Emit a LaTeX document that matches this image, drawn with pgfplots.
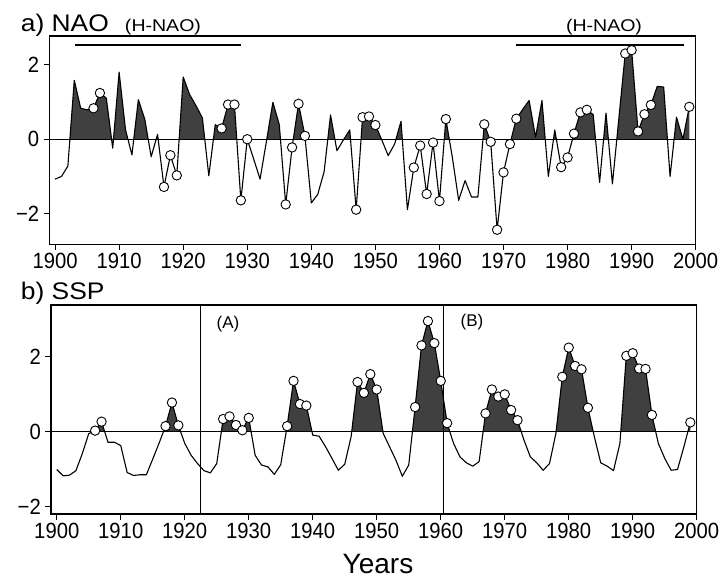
\documentclass[border=0pt]{standalone}
\usepackage{fontspec}
\setmainfont{Liberation Sans}
\newfontfamily\tickfont[FakeStretch=0.92]{Liberation Sans}
\newfontfamily\widefont[FakeStretch=1.1]{Liberation Sans}
\newfontfamily\xwidefont[FakeStretch=1.15]{Liberation Sans}
\usepackage{pgfplots}
\pgfplotsset{compat=1.18}
\usepackage{pgfplotstable}

\definecolor{areagray}{HTML}{404040}

% NAO index; ring=1 marks the years shown with open circles
\pgfplotstableread{
year nao ring
1900 -1.07 0
1901 -1.00 0
1902 -0.72 0
1903 1.58 0
1904 0.83 0
1905 0.79 0
1906 0.83 1
1907 1.24 1
1908 1.10 0
1909 -0.24 0
1910 1.80 0
1911 0.25 0
1912 -0.42 0
1913 1.06 0
1914 0.54 0
1915 -0.47 0
1916 0.13 0
1917 -1.28 1
1918 -0.43 1
1919 -0.97 1
1920 1.67 0
1921 1.20 0
1922 0.90 0
1923 0.57 0
1924 -0.98 0
1925 0.39 0
1926 0.29 1
1927 0.93 1
1928 0.93 1
1929 -1.64 1
1930 0.00 1
1931 -0.53 0
1932 -1.07 0
1933 -0.05 0
1934 0.99 0
1935 0.39 0
1936 -1.75 1
1937 -0.22 1
1938 0.95 1
1939 0.09 1
1940 -1.71 0
1941 -1.48 0
1942 -0.87 0
1943 0.65 0
1944 -0.31 0
1945 -0.02 0
1946 0.25 0
1947 -1.89 1
1948 0.59 1
1949 0.61 1
1950 0.38 1
1951 -0.02 0
1952 -0.44 0
1953 -0.13 0
1954 0.48 0
1955 -1.89 0
1956 -0.76 1
1957 -0.17 1
1958 -1.47 1
1959 -0.09 1
1960 -1.66 1
1961 0.54 1
1962 -0.47 0
1963 -1.64 0
1964 -1.11 0
1965 -1.55 0
1966 -1.55 0
1967 0.40 1
1968 -0.07 1
1969 -2.43 1
1970 -0.89 1
1971 -0.13 1
1972 0.55 1
1973 0.80 0
1974 1.04 0
1975 0.05 0
1976 1.04 0
1977 -1.00 0
1978 0.25 0
1979 -0.75 1
1980 -0.49 1
1981 0.15 1
1982 0.72 1
1983 0.79 1
1984 0.66 0
1985 -1.16 0
1986 0.70 0
1987 -1.20 0
1988 0.55 0
1989 2.30 1
1990 2.39 1
1991 0.21 1
1992 0.67 1
1993 0.92 1
1994 1.42 0
1995 1.40 0
1996 -1.00 0
1997 0.59 0
1998 0.00 0
1999 0.87 1
}\naodata

% SSP index; same ring flag
\pgfplotstableread{
year ssp ring
1900 -1.01 0
1901 -1.18 0
1902 -1.16 0
1903 -1.04 0
1904 -0.58 0
1905 -0.05 0
1906 0.03 1
1907 0.27 1
1908 -0.28 0
1909 -0.28 0
1910 -0.37 0
1911 -1.09 0
1912 -1.17 0
1913 -1.15 0
1914 -1.15 0
1915 -0.73 0
1916 -0.30 0
1917 0.15 1
1918 0.78 1
1919 0.17 1
1920 -0.31 0
1921 -0.63 0
1922 -0.85 0
1923 -1.04 0
1924 -1.10 0
1925 -0.85 0
1926 0.34 1
1927 0.41 1
1928 0.18 1
1929 0.04 1
1930 0.37 1
1931 -0.63 0
1932 -0.89 0
1933 -0.94 0
1934 -1.14 0
1935 -0.88 0
1936 0.15 1
1937 1.36 1
1938 0.74 1
1939 0.70 1
1940 -0.09 0
1941 -0.12 0
1942 -0.40 0
1943 -0.71 0
1944 -1.03 0
1945 -0.87 0
1946 -0.13 0
1947 1.33 1
1948 1.04 1
1949 1.54 1
1950 1.13 1
1951 -0.04 0
1952 -0.40 0
1953 -0.76 0
1954 -1.19 0
1955 -0.89 0
1956 0.66 1
1957 2.31 1
1958 2.96 1
1959 2.37 1
1960 1.36 1
1961 0.23 1
1962 -0.31 0
1963 -0.67 0
1964 -0.83 0
1965 -0.92 0
1966 -0.80 0
1967 0.49 1
1968 1.13 1
1969 0.94 1
1970 1.00 1
1971 0.58 1
1972 0.31 1
1973 -0.22 0
1974 -0.67 0
1975 -0.83 0
1976 -1.03 0
1977 -0.85 0
1978 -0.04 0
1979 1.47 1
1980 2.25 1
1981 1.76 1
1982 1.67 1
1983 0.64 1
1984 -0.13 0
1985 -0.83 0
1986 -0.92 0
1987 -1.04 0
1988 -0.31 0
1989 2.03 1
1990 2.10 1
1991 1.69 1
1992 1.68 1
1993 0.45 1
1994 -0.31 0
1995 -0.71 0
1996 -1.03 0
1997 -1.01 0
1998 -0.40 0
1999 0.25 1
}\sspdata

\pgfplotsset{
  panel/.style={
    scale only axis,
    xmin=1899.1, xmax=2000,
    axis line style={line width=1.1bp},
    tick align=outside,
    xtick pos=bottom, ytick pos=left,
    major tick length=5.7bp,
    tick style={line width=1bp, black},
    xtick={1900,1910,1920,1930,1940,1950,1960,1970,1980,1990,2000},
    xticklabels={1900,1910,1920,1930,1940,1950,1960,1970,1980,1990,2000},
    ytick={-2,0,2},
    yticklabels={−2,0,2},
    ticklabel style={font=\tickfont\fontsize{22bp}{24bp}\selectfont},
    yticklabel style={xshift=-1bp},
  },
  curve/.style={black, line width=1.1bp, line join=round},
  rings/.style={only marks, mark=*, mark size=4.7bp,
    mark options={fill=white, draw=black, line width=0.9bp}},
}

\begin{document}
\begin{tikzpicture}
\path[use as bounding box] (0,0) rectangle (723bp,-581bp);

% ---------------- a) NAO ----------------
\begin{axis}[panel,
  at={(49.3bp,-244.3bp)}, anchor=south west,
  width=646.4bp, height=208.3bp,
  ymin=-2.82, ymax=2.77]
  \begin{scope}
    \clip (axis cs:1899.1,0) rectangle (axis cs:2000,2.77);
    \addplot[fill=areagray, draw=none] table[x=year, y=nao] {\naodata} \closedcycle;
  \end{scope}
  \addplot[black, line width=0.8bp] coordinates {(1899.1,0) (2000,0)};
  \addplot[curve] table[x=year, y=nao] {\naodata};
  \addplot[rings, restrict expr to domain={\thisrow{ring}}{1:1}]
    table[x=year, y=nao] {\naodata};
  % high-NAO periods
  \addplot[black, line width=2.7bp] coordinates {(1903.1,2.53) (1929.1,2.53)};
  \addplot[black, line width=2.7bp] coordinates {(1972.0,2.53) (1998.2,2.53)};
\end{axis}

% ---------------- b) SSP ----------------
\begin{axis}[panel,
  at={(51bp,-514bp)}, anchor=south west,
  width=645.7bp, height=209bp,
  ymin=-2.2, ymax=3.39]
  \begin{scope}
    \clip (axis cs:1899.1,0) rectangle (axis cs:2000,3.39);
    \addplot[fill=areagray, draw=none] table[x=year, y=ssp] {\sspdata} \closedcycle;
  \end{scope}
  \addplot[black, line width=0.8bp] coordinates {(1899.1,0) (2000,0)};
  \addplot[black, line width=1.1bp] coordinates {(1922.4,-2.2) (1922.4,3.39)};
  \addplot[black, line width=1.1bp] coordinates {(1960.5,-2.2) (1960.5,3.39)};
  \addplot[curve] table[x=year, y=ssp] {\sspdata};
  \addplot[rings, restrict expr to domain={\thisrow{ring}}{1:1}]
    table[x=year, y=ssp] {\sspdata};
\end{axis}

% titles and annotations
\node[anchor=base west, inner sep=0] at (20.7bp,-31.7bp)
  {\widefont\fontsize{24bp}{26bp}\selectfont a) NAO};
\node[anchor=base, inner sep=0] at (163bp,-31.7bp)
  {\xwidefont\fontsize{17bp}{19bp}\selectfont (H-NAO)};
\node[anchor=base, inner sep=0] at (604bp,-31.7bp)
  {\xwidefont\fontsize{17bp}{19bp}\selectfont (H-NAO)};
\node[anchor=base west, inner sep=0] at (20.7bp,-299.3bp)
  {\widefont\fontsize{24bp}{26bp}\selectfont b) SSP};
\node[anchor=base, inner sep=0] at (228bp,-328.3bp)
  {\fontsize{17bp}{19bp}\selectfont (A)};
\node[anchor=base, inner sep=0] at (472bp,-326.7bp)
  {\fontsize{17bp}{19bp}\selectfont (B)};
\node[anchor=base, inner sep=0] at (378bp,-573.3bp)
  {\fontsize{28bp}{30bp}\selectfont Years};
\end{tikzpicture}
\end{document}
